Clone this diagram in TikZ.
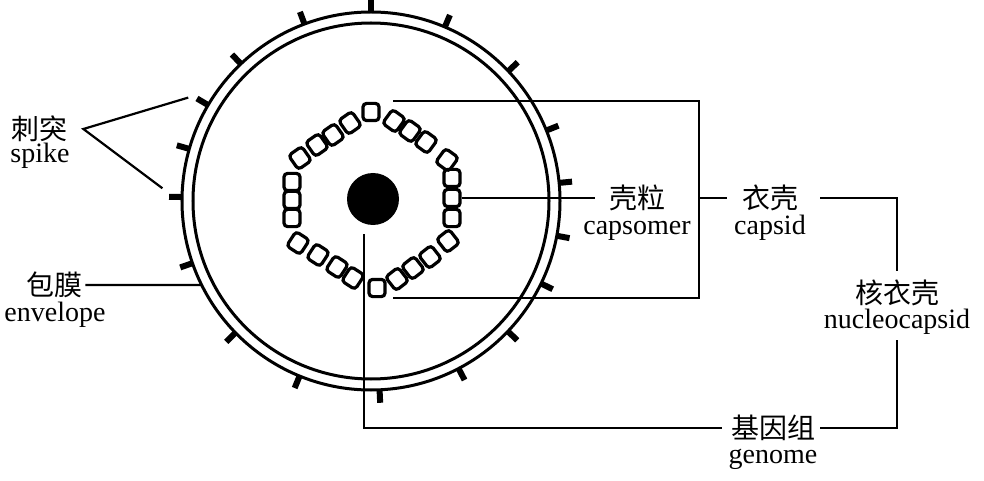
\documentclass[tikz,border=0pt]{standalone}
\usepackage{fontspec}
\setmainfont{Liberation Serif}
\newfontfamily\cjk{Noto Sans CJK SC}
\usepackage{tikz}
\usetikzlibrary{arrows.meta}
\usetikzlibrary{positioning}

\begin{document}
\begin{tikzpicture}[x=0.5pt, y=0.5pt, >=Latex,
	cn/.style={font=\cjk\fontsize{14}{16}\selectfont, inner sep=0pt},
	en/.style={font=\fontsize{14}{16}\selectfont, inner sep=0pt, anchor=base},
	wall/.style={line width=1.5pt},
	spikeline/.style={line width=3pt},
	capso/.style={draw, line width=1.6pt, rounded corners=1.8pt, minimum width=8pt, minimum height=8.6pt, inner sep=0pt},
	lead/.style={line width=1.1pt}]
			\useasboundingbox (-371,-280) rectangle (613,201);
			% envelope with spikes
			\draw[wall] (0,0) circle[radius=189];
			\draw[wall] (0,0) circle[radius=178];
			\foreach \a in {5.5,21.9,43.4,67,90,110.6,133.5,149.5,164,178.8,199.2,224.2,247.8,272.6,297.6,316.4,334.1,349.4}
				\draw[spikeline] (\a:189) -- (\a:202);
			% core and capsomers
			\node[circle, fill=black, minimum size=26pt, inner sep=0pt] (core) at (2,2) {};
			\foreach \x/\y/\r [count=\i] in {0/89/0, 23/80/-36, 39/70/-36, 55/59/-36, 76/41/-36,
				81/23/0, 81/3/0, 81/-17/0, 77/-40/38, 59/-56/38, 42/-67/38, 26/-78/38,
				6/-87/0, -18/-77/-33, -34/-66/-33, -53/-54/-33, -73/-42/-33,
				-79/-17/0, -79/1/0, -79/19/0, -71/43/35, -54/56/35, -38/66/35, -21/78/35}
				\node[capso, rotate=\r] (c\i) at (\x,\y) {};
			
			\node[cn] (spikeCN) at (-331,72) {刺突};
			\node[en] (spikeEN) at ([yshift=-17pt]spikeCN.center) {spike};
			\node[cn] (envCN) at (-316,-84) {包膜};
			\node[en] (envEN) at ([yshift=-18pt]envCN.center) {envelope};
			\node[cn] (capsomerCN) at (266,3) {壳粒};
			\node[en] (capsomerEN) at ([yshift=-18pt]capsomerCN.center) {capsomer};
			\node[cn] (capsidCN) at (399,3) {衣壳};
			\node[en] (capsidEN) at ([yshift=-18pt]capsidCN.center) {capsid};
			\node[cn] (nucleoCN) at (526,-92) {核衣壳};
			\node[en] (nucleoEN) at ([yshift=-17.5pt]nucleoCN.center) {nucleocapsid};
			\node[cn] (genomeCN) at (402,-227) {基因组};
			\node[en] (genomeEN) at ([yshift=-17.5pt]genomeCN.center) {genome};
			
			% leaders
			\coordinate (spkA) at (150.5:210);
			\coordinate (spkB) at (176.5:209);
			\coordinate (envPt) at (206.4:189);
			\coordinate (brA) at (22,100);
			\coordinate (brB) at (22,-97);
			\coordinate (brR) at (328,3);
			\draw[lead] (spkA) -- ([xshift=7.5pt]spikeCN.east) -- (spkB);
			\draw[lead] ([xshift=1pt]envCN.east) -- (envPt);
			\draw[lead] (c7.east) -- ([xshift=-7pt]capsomerCN.west);
			\draw[lead] (brA) -| (brR) |- (brB);
			\draw[lead] (brR) -- ([xshift=-7.5pt]capsidCN.west);
			\draw[lead] ([xshift=11pt]capsidCN.east) -| ([yshift=4.5pt]nucleoCN.north);
			\draw[lead] ([yshift=-3pt]nucleoEN.south) |- ([xshift=2.5pt]genomeCN.east);
			\draw[lead] ([xshift=-4.5pt,yshift=-4.5pt]core.south) |- ([xshift=-4.5pt]genomeCN.west);
		\end{tikzpicture}
\end{document}
